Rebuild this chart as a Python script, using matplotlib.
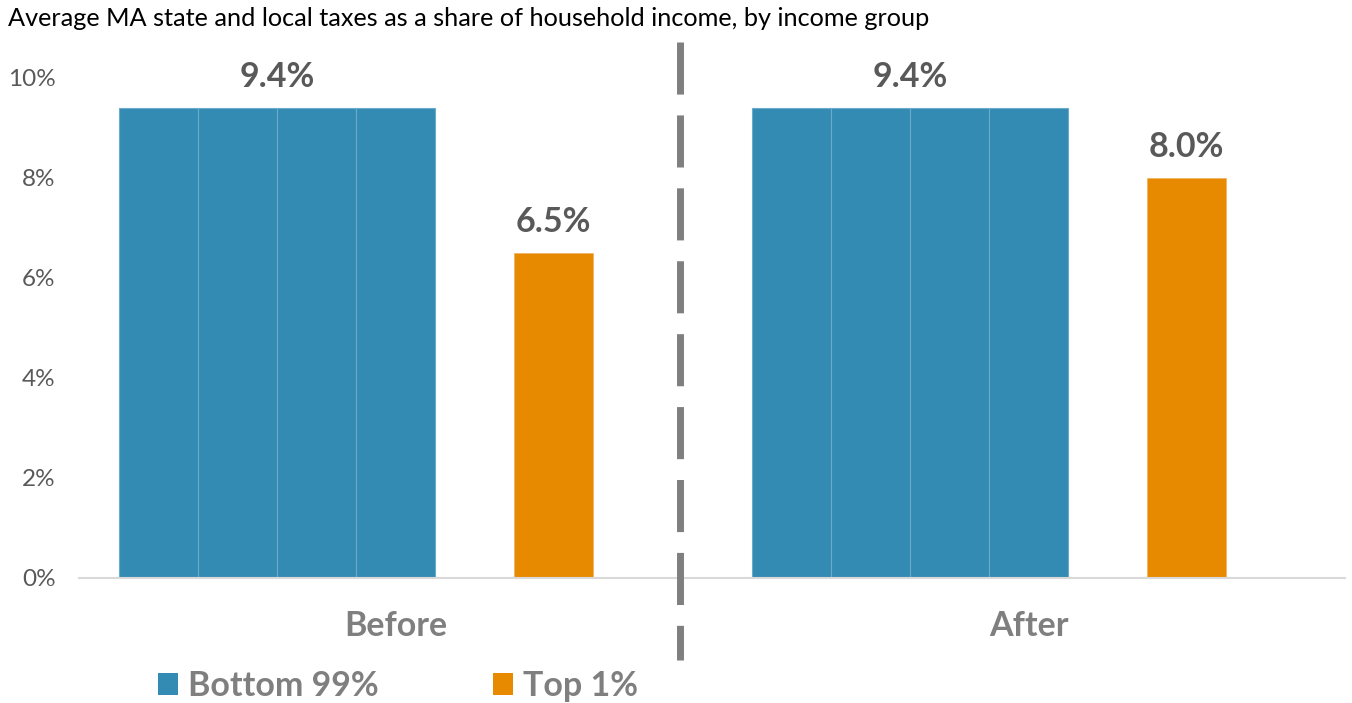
import matplotlib
matplotlib.use("Agg")
import matplotlib.pyplot as plt
from matplotlib.lines import Line2D
from matplotlib.patches import Patch

categories = ["Before", "After"]
bottom99 = [9.4, 9.4]
top1 = [6.5, 8.0]
series_names = ["Bottom 99%", "Top 1%"]
yticks = [0, 2, 4, 6, 8, 10]
ytick_labels = ["0%", "2%", "4%", "6%", "8%", "10%"]
title = "Average MA state and local taxes as a share of household income, by income group"

BLUE = "#338BB3"
BLUE_EDGE = "#6AAACB"
ORANGE = "#E88A00"
DARK = "#595959"
GRAY = "#7F7F7F"

plt.rcParams['font.family'] = ['Lato', 'DejaVu Sans']

W, H = 1352, 703
fig = plt.figure(figsize=(W / 100, H / 100), dpi=100)
ax = fig.add_axes([79 / W, 1 - 578 / H, (1345 - 79) / W, 525 / H])

slots = 8  # slot units per category
nseg = 4
for i, cat in enumerate(categories):
    base = i * slots
    for k in range(nseg):
        ax.bar(base + 0.5 + k, bottom99[i], width=1, align='edge',
               color=BLUE, edgecolor=BLUE_EDGE, linewidth=0.8, zorder=2)
    ax.annotate(f"{bottom99[i]:.1f}%", (base + 0.5 + nseg / 2, bottom99[i]),
                xytext=(0, 15), textcoords='offset points', ha='center',
                va='baseline', fontsize=24.5, fontweight='bold', color=DARK)
    ax.bar(base + 5.5, top1[i], width=1, align='edge', color=ORANGE,
           edgecolor='#F0B060', linewidth=0.5, zorder=2)
    ax.annotate(f"{top1[i]:.1f}%", (base + 6.0, top1[i]),
                xytext=(0, 15), textcoords='offset points', ha='center',
                va='baseline', fontsize=24.5, fontweight='bold', color=DARK)

ax.set_xlim(0, slots * len(categories))
ax.set_ylim(0, 10.5)
ax.set_xticks([i * slots + slots / 2 for i in range(len(categories))])
ax.set_xticklabels(categories, fontsize=24.5, fontweight='bold', color=GRAY)
ax.set_yticks(yticks)
ax.set_yticklabels(ytick_labels, fontsize=17.5, color=DARK)
ax.tick_params(axis='both', length=0)
ax.tick_params(axis='x', pad=23)
ax.tick_params(axis='y', pad=17)
for s in ['top', 'right', 'left']:
    ax.spines[s].set_visible(False)
ax.spines['bottom'].set_color('#D9D9D9')
ax.spines['bottom'].set_linewidth(1.5)

# dashed divider
fig.add_artist(Line2D([680 / W, 680 / W], [1 - 42 / H, 1 - 660 / H],
                      transform=fig.transFigure, color=GRAY, linewidth=5,
                      dashes=(7.5, 3), solid_capstyle='butt', dash_capstyle='butt'))

fig.text(8 / W, 1 - 19 / H, title, fontsize=18.2, color='black', va='center', ha='left')

handles = [Patch(facecolor=BLUE), Patch(facecolor=ORANGE)]
leg = fig.legend(handles, series_names, loc='center left', bbox_to_anchor=(127 / W, 1 - 686 / H),
                 ncol=2, frameon=False, handlelength=0.6, handleheight=0.6,
                 handletextpad=0.3, columnspacing=3.35,
                 prop={'size': 24.5, 'weight': 'bold'})
for t in leg.get_texts():
    t.set_color(GRAY)

fig.savefig("out.png", dpi=100)
